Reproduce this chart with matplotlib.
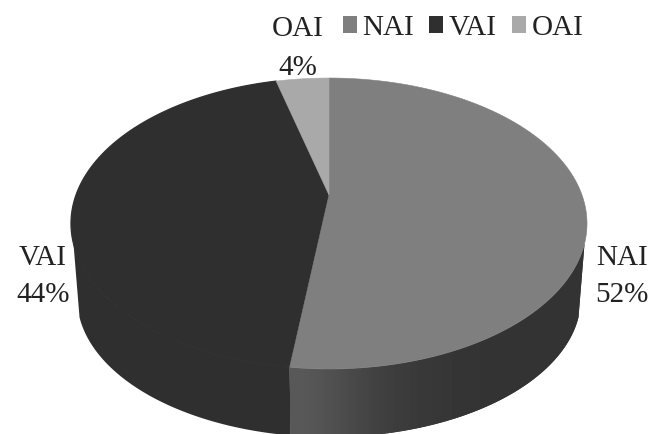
import numpy as np
import matplotlib
matplotlib.use("Agg")
import matplotlib.pyplot as plt
from matplotlib.patches import Polygon, Patch

categories = ["NAI", "VAI", "OAI"]
shares = [52, 44, 4]
colors = ["#7f7f7f", "#2f2f2f", "#a9a9a9"]
pct_labels = ["52%", "44%", "4%"]

plt.rcParams['font.family'] = ['Liberation Serif']
TEXT = "#222222"


def project(theta, cx, cy, a, b, p=0.196):
    # unit circle seen in perspective, theta clockwise from the top
    x = np.sin(theta)
    y = np.cos(theta)
    return np.column_stack([cx + b * x / (1 + p * y), cy - a * y / (1 + p * y)])


def top_edge(theta):
    return project(theta, 329, 195, 139.9, 253)


def bottom_edge(theta):
    return project(theta, 329, 271, 133.5, 247)


fig = plt.figure(figsize=(6.65, 4.34), dpi=100)
ax = fig.add_axes([0, 0, 1, 1])
ax.set_xlim(0, 665)
ax.set_ylim(434, 0)
ax.axis("off")

edges = np.cumsum([0] + shares) / sum(shares) * 2 * np.pi
right_turn = np.radians(109)
left_turn = np.radians(251)

# side wall first, the top face covers what is behind it
wall_nai = np.linspace(right_turn, edges[1], 200)
wall_vai = np.linspace(edges[1], left_turn, 200)
for name, th in [("VAI", wall_vai), ("NAI", wall_nai)]:
    pts = np.vstack([top_edge(th), bottom_edge(th[::-1])])
    side = Polygon(pts, closed=True, facecolor="#2f2f2f", edgecolor="none", zorder=1)
    ax.add_patch(side)
    if name == "NAI":
        # lighter towards the front edge of the wall
        grad = np.array([[0.35, 0.28, 0.235, 0.215, 0.2, 0.2, 0.2]])
        im = ax.imshow(grad, cmap="gray", vmin=0, vmax=1, extent=(290, 590, 440, 220),
                       aspect="auto", interpolation="bicubic", zorder=2)
        im.set_clip_path(side)

for i in [1, 0, 2]:
    th = np.linspace(edges[i], edges[i + 1], 200)
    pts = np.vstack([[[329, 195]], top_edge(th)])
    ax.add_patch(Polygon(pts, closed=True, facecolor=colors[i], edgecolor=colors[i],
                         linewidth=0.9 if i == 1 else 0.4, zorder=3))

ax.set_xlim(0, 665)
ax.set_ylim(434, 0)

label_pos = [(622, 265, 302), (43, 265, 302), (298, 36, 75)]
for name, pct, (x, y1, y2) in zip(categories, pct_labels, label_pos):
    ax.text(x, y1, name, fontsize=21, color=TEXT, ha="center", va="baseline", zorder=5)
    ax.text(x, y2, pct, fontsize=21, color=TEXT, ha="center", va="baseline", zorder=5)

handles = [Patch(facecolor=c, edgecolor="none") for c in colors]
ax.legend(handles, categories, ncol=3, loc="center left", bbox_to_anchor=(343, 28),
          bbox_transform=ax.transData, frameon=False, fontsize=21, labelcolor=TEXT,
          handlelength=0.47, handleheight=0.5, handletextpad=0.19, columnspacing=0.53,
          borderpad=0, borderaxespad=0)

fig.savefig("out.png", dpi=100)
